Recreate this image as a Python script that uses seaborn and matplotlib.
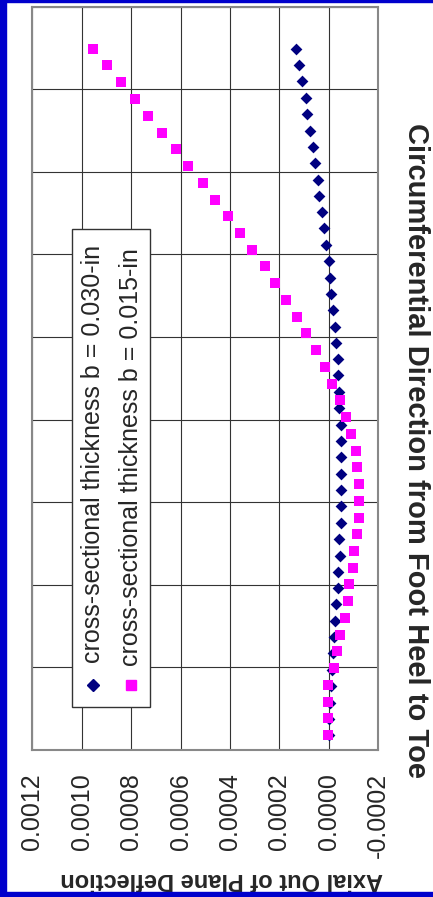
"""
Axial deflection along the foot, two cross-sectional thicknesses
"""

import matplotlib
matplotlib.use("Agg")
import matplotlib.pyplot as plt
import seaborn as sns
import pandas as pd
from matplotlib.lines import Line2D
from matplotlib.patches import Rectangle


# circumferential stations (bottom of chart = heel side)
pos_030 = [3.6, 7.6, 11.5, 15.5, 19.4, 23.4, 27.3, 31.3, 35.3, 39.2,
           43.2, 47.1, 51.1, 55.0, 59.0, 63.0, 66.9, 70.9, 74.8, 78.8,
           82.7, 86.7, 90.7, 94.6, 98.6, 102.5, 106.5, 110.4, 114.4, 118.4,
           122.3, 126.3, 130.2, 134.2, 138.1, 142.1, 146.1, 150.0, 154.0, 157.9,
           161.9, 165.8, 169.8]
pos_015 = [3.6, 7.7, 11.7, 15.8, 19.8, 23.9, 27.9, 32.0, 36.0, 40.1,
           44.1, 48.2, 52.2, 56.3, 60.4, 64.4, 68.5, 72.5, 76.6, 80.6,
           84.7, 88.7, 92.8, 96.8, 100.9, 104.9, 109.0, 113.1, 117.1, 121.2,
           125.2, 129.3, 133.3, 137.4, 141.4, 145.5, 149.5, 153.6, 157.7, 161.7,
           165.8, 169.8]

# axial out of plane deflection
defl_030 = [0.0, -0.008e-4, -0.028e-4, -0.089e-4, -0.13e-4, -0.17e-4, -0.21e-4, -0.231e-4, -0.30e-4, -0.364e-4,
            -0.364e-4, -0.433e-4, -0.421e-4, -0.486e-4, -0.474e-4, -0.486e-4, -0.486e-4, -0.486e-4, -0.494e-4, -0.482e-4,
            -0.421e-4, -0.421e-4, -0.36e-4, -0.352e-4, -0.30e-4, -0.231e-4, -0.17e-4, -0.101e-4, -0.036e-4, 0.008e-4,
            0.134e-4, 0.202e-4, 0.263e-4, 0.389e-4, 0.449e-4, 0.571e-4, 0.632e-4, 0.773e-4, 0.89e-4, 0.943e-4,
            1.085e-4, 1.21e-4, 1.32e-4]
defl_015 = [0.03e-4, 0.03e-4, 0.03e-4, 0.03e-4, -0.19e-4, -0.324e-4, -0.445e-4, -0.648e-4, -0.769e-4, -0.826e-4,
            -0.96e-4, -1.028e-4, -1.15e-4, -1.202e-4, -1.215e-4, -1.215e-4, -1.15e-4, -1.081e-4, -0.891e-4, -0.704e-4,
            -0.462e-4, -0.138e-4, 0.174e-4, 0.538e-4, 0.915e-4, 1.308e-4, 1.741e-4, 2.17e-4, 2.603e-4, 3.117e-4,
            3.603e-4, 4.101e-4, 4.615e-4, 5.101e-4, 5.68e-4, 6.166e-4, 6.733e-4, 7.30e-4, 7.854e-4, 8.421e-4,
            8.988e-4, 9.555e-4]

label_030 = "cross-sectional thickness b = 0.030-in"
label_015 = "cross-sectional thickness b = 0.015-in"
defl_ticks = [0.0012, 0.0010, 0.0008, 0.0006, 0.0004, 0.0002, 0.0000, -0.0002]
pos_grid = [0, 20, 40, 60, 80, 100, 120, 140, 160, 180]


if __name__ == "__main__":

    sns.set_style("white")
    plt.rcParams["font.family"] = ["Liberation Sans", "DejaVu Sans"]
    plt.rcParams["axes.unicode_minus"] = False

    df_030 = pd.DataFrame({"position": pos_030, "deflection": defl_030})
    df_015 = pd.DataFrame({"position": pos_015, "deflection": defl_015})

    W, H = 433, 897
    fig = plt.figure(figsize=(W / 100, H / 100), dpi=100)
    ax = fig.add_axes([32.3 / W, 1 - 750 / H, 346 / W, 743.3 / H])

    sns.scatterplot(data=df_030, x="deflection", y="position", marker="D", color="#000080",
                    s=36, linewidth=0, ax=ax, zorder=3)
    sns.scatterplot(data=df_015, x="deflection", y="position", marker="s", color="#FF00FF",
                    s=46, linewidth=0, ax=ax, zorder=4)

    ax.set_xlim(0.0012, -0.0002)
    ax.set_ylim(0, 180)
    ax.set_xticks(defl_ticks, [f"{v:.4f}" for v in defl_ticks], rotation=90, fontsize=18)
    ax.set_yticks(pos_grid)
    ax.set_yticklabels([])
    ax.tick_params(length=0)
    ax.tick_params(axis="x", pad=16.5)
    ax.grid(True, color="#333333", linewidth=0.8)
    for sp in ax.spines.values():
        sp.set_color("#888888")
        sp.set_linewidth(1.5)

    ax.set_xlabel("Axial Out of Plane Deflection", rotation=180, fontsize=17,
                  fontweight="bold", va="center")
    ax.xaxis.set_label_coords(0.548, -0.1736)
    ax.yaxis.set_label_position("right")
    ax.set_ylabel("Circumferential Direction from Foot Heel to Toe", rotation=270, fontsize=21,
                  fontweight="bold", va="center", ha="center")
    ax.yaxis.set_label_coords(1.109, 0.4036)

    # legend drawn by hand, turned on its side like the original
    fig.add_artist(Rectangle((71.7 / W, 1 - 707 / H), 78.3 / W, 477.7 / H, transform=fig.transFigure,
                             facecolor="white", edgecolor="#333333", linewidth=1, zorder=5))
    fig.text(92.9 / W, 1 - 663 / H, label_030, rotation=90, ha="center", va="bottom", fontsize=18, zorder=6)
    fig.text(131.3 / W, 1 - 666 / H, label_015, rotation=90, ha="center", va="bottom", fontsize=18, zorder=6)
    fig.add_artist(Line2D([92.7 / W], [1 - 685 / H], marker="D", color="#000080", markersize=6,
                          linestyle="none", transform=fig.transFigure, zorder=6))
    fig.add_artist(Line2D([130.7 / W], [1 - 685 / H], marker="s", color="#FF00FF", markersize=6.8,
                          linestyle="none", transform=fig.transFigure, zorder=6))

    # blue slide frame
    for x0, y0, w, h in [(0, 0, 6, H), (0, H - 2, W, 2), (0, 0, W, 5)]:
        fig.add_artist(Rectangle((x0 / W, y0 / H), w / W, h / H, transform=fig.transFigure,
                                 color="#0000CC", zorder=10))

    plt.savefig("out.png", dpi=100)
